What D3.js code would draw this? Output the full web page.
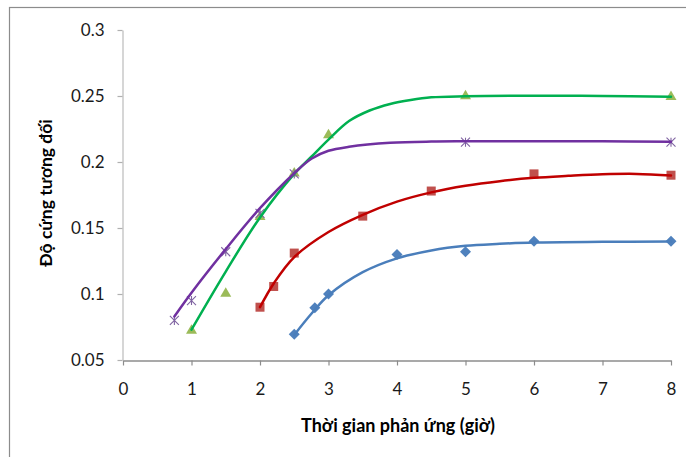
<!DOCTYPE html>
<html>
<head>
<meta charset="utf-8">
<script src="https://cdn.jsdelivr.net/npm/d3@7"></script>
<style>
  html, body { margin: 0; padding: 0; background: #fff; }
  svg { display: block; }
  text { font-family: Lato, "Noto Sans", sans-serif; }
</style>
</head>
<body>
<svg id="chart" width="686" height="457"></svg>
<script>
// ---- data ----
const xTicks = [0, 1, 2, 3, 4, 5, 6, 7, 8];
const yTicks = [0.05, 0.1, 0.15, 0.2, 0.25, 0.3];
const xTitle = "Thời gian phản ứng (giờ)";
const yTitle = "Độ cứng tương đối";

// markers
const blueX = [2.5, 2.8, 3, 4, 5, 6, 8];
const blueY = [0.0695, 0.0895, 0.1, 0.13, 0.132, 0.14, 0.14];
const redX = [2, 2.2, 2.5, 3.5, 4.5, 6, 8];
const redY = [0.09, 0.1057, 0.131, 0.159, 0.178, 0.191, 0.19];
const greenX = [1, 1.5, 2, 2.5, 3, 5, 8];
const greenY = [0.073, 0.101, 0.159, 0.192, 0.221, 0.2505, 0.25];
const purpleX = [0.75, 1, 1.5, 2, 2.5, 5, 8];
const purpleY = [0.08, 0.095, 0.132, 0.161, 0.191, 0.215, 0.215];

// trend lines
const blueTrendX = [2.5, 2.75, 3, 3.5, 4, 4.5, 5, 5.5, 6, 7, 8];
const blueTrendY = [0.069, 0.085, 0.099, 0.1165, 0.127, 0.133, 0.1365, 0.138, 0.139, 0.1395, 0.1397];
const redTrendX = [2, 2.2, 2.5, 3, 3.5, 4, 4.5, 5, 5.5, 6, 6.5, 7, 7.5, 8];
const redTrendY = [0.09, 0.108, 0.128, 0.147, 0.16, 0.17, 0.177, 0.182, 0.1855, 0.188, 0.1895, 0.1907, 0.191, 0.1898];
const greenTrendX = [1, 1.5, 2, 2.5, 2.75, 3, 3.3, 3.6, 3.9, 4.2, 4.5, 5, 6, 7, 8];
const greenTrendY = [0.073, 0.117, 0.158, 0.191, 0.204, 0.217, 0.231, 0.239, 0.244, 0.247, 0.249, 0.2498, 0.2502, 0.25, 0.2495];
const purpleTrendX = [0.75, 1, 1.5, 2, 2.5, 2.75, 3, 3.3, 3.9, 4.5, 5, 6, 7, 8];
const purpleTrendY = [0.083, 0.101, 0.134, 0.165, 0.1915, 0.2025, 0.2085, 0.2115, 0.2145, 0.2155, 0.2157, 0.2158, 0.2157, 0.2153];

// ---- layout ----
const svg = d3.select("#chart");
const plot = { left: 123, right: 671, top: 30, bottom: 360 };
const x = d3.scaleLinear().domain([0, 8]).range([plot.left, plot.right]);
const y = d3.scaleLinear().domain([0.05, 0.3]).range([plot.bottom, plot.top]);

// outer frame (extends past the picture on right and bottom)
svg.append("rect")
  .attr("x", 9.5).attr("y", 7.5)
  .attr("width", 720).attr("height", 480)
  .attr("fill", "none").attr("stroke", "#8c8c8c").attr("stroke-width", 1.2);

// y axis
const yAxis = svg.append("g")
  .attr("transform", `translate(${plot.left - 0.5},0)`)
  .call(d3.axisLeft(y).tickValues(yTicks).tickSize(5).tickSizeOuter(0)
        .tickFormat(d => d3.format("")(+d.toFixed(2))));
yAxis.select(".domain").attr("stroke", "#c0c0c0").attr("stroke-width", 1.3);
yAxis.selectAll(".tick line").attr("stroke", "#b0b0b0").attr("stroke-width", 1.2);
yAxis.selectAll(".tick text")
  .attr("x", -18).attr("font-size", 17).attr("fill", "#1a1a1a")
  .style("font-family", "Lato, 'Noto Sans', sans-serif");

// x axis
const xAxis = svg.append("g")
  .attr("transform", `translate(0,${plot.bottom + 0.5})`)
  .call(d3.axisBottom(x).tickValues(xTicks).tickSize(5).tickSizeOuter(0).tickFormat(d3.format("d")));
xAxis.select(".domain").attr("stroke", "#8c8c8c").attr("stroke-width", 1.3);
xAxis.selectAll(".tick line").attr("stroke", "#8c8c8c").attr("stroke-width", 1.2);
xAxis.selectAll(".tick text")
  .attr("y", 22).attr("font-size", 17).attr("fill", "#1a1a1a")
  .style("font-family", "Lato, 'Noto Sans', sans-serif");

// titles
svg.append("text")
  .attr("x", 398).attr("y", 432)
  .attr("text-anchor", "middle")
  .attr("font-size", 18).attr("font-weight", "bold").attr("fill", "#000")
  .text(xTitle);
svg.append("text")
  .attr("transform", `translate(52,193) rotate(-90)`)
  .attr("text-anchor", "middle")
  .attr("font-size", 17.5).attr("font-weight", "bold").attr("fill", "#000")
  .text(yTitle);

// ---- series ----
const line = d3.line().x(d => x(d[0])).y(d => y(d[1])).curve(d3.curveCatmullRom.alpha(0.5));
const zip = (a, b) => a.map((v, i) => [v, b[i]]);

const series = [
  { trend: zip(blueTrendX, blueTrendY), pts: zip(blueX, blueY), line: "#4a7ebb", mark: "#4f81bd", shape: "diamond" },
  { trend: zip(redTrendX, redTrendY), pts: zip(redX, redY), line: "#c00000", mark: "#c0504d", shape: "square" },
  { trend: zip(greenTrendX, greenTrendY), pts: zip(greenX, greenY), line: "#00b050", mark: "#9bbb59", shape: "triangle" },
  { trend: zip(purpleTrendX, purpleTrendY), pts: zip(purpleX, purpleY), line: "#7030a0", mark: "#8064a2", shape: "star" }
];

// markers first, then trend lines on top (as in the picture)
series.forEach(s => {
  const g = svg.append("g");
  s.pts.forEach(p => {
    const cx = x(p[0]), cy = y(p[1]);
    if (s.shape === "diamond") {
      g.append("path").attr("d", `M${cx},${cy-5.5}L${cx+5.5},${cy}L${cx},${cy+5.5}L${cx-5.5},${cy}Z`).attr("fill", s.mark);
    } else if (s.shape === "square") {
      g.append("rect").attr("x", cx - 4.5).attr("y", cy - 4.5).attr("width", 9).attr("height", 9).attr("fill", s.mark);
    } else if (s.shape === "triangle") {
      g.append("path").attr("d", `M${cx},${cy-5.5}L${cx+5.5},${cy+4}L${cx-5.5},${cy+4}Z`).attr("fill", s.mark);
    } else {
      const r = 4.5;
      g.append("path")
        .attr("d", `M${cx-r},${cy-r}L${cx+r},${cy+r}M${cx-r},${cy+r}L${cx+r},${cy-r}M${cx},${cy-r}L${cx},${cy+r}`)
        .attr("stroke", s.mark).attr("stroke-width", 1.1).attr("fill", "none");
    }
  });
});
series.forEach(s => {
  svg.append("path").datum(s.trend)
    .attr("d", line)
    .attr("fill", "none").attr("stroke", s.line).attr("stroke-width", 2.5)
    .attr("stroke-linecap", "round");
});
</script>
</body>
</html>
